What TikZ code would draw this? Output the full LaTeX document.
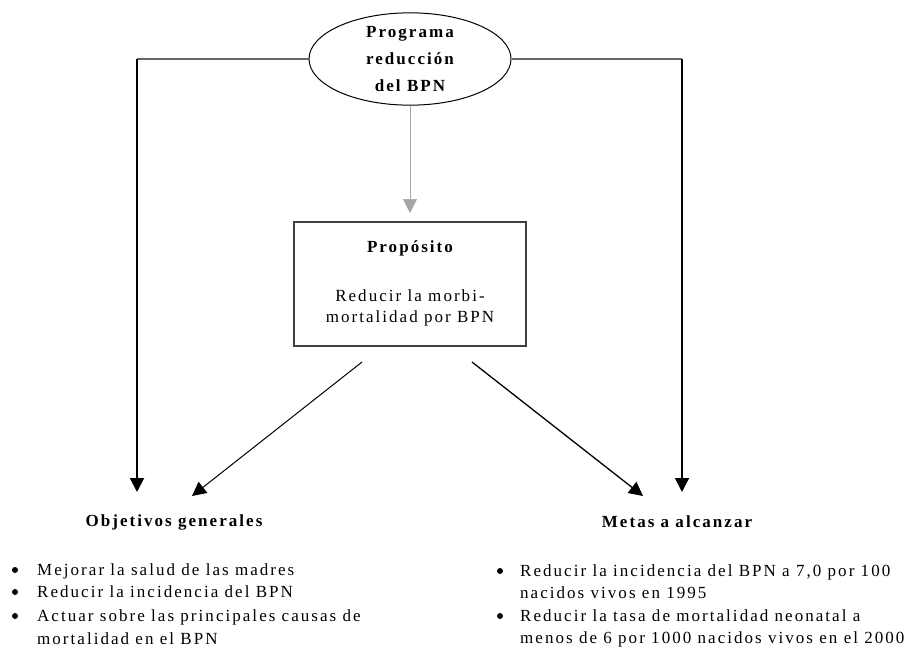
\documentclass[tikz,border=0pt]{standalone}
\usepackage{fontspec}
\setmainfont{Liberation Serif}
\usetikzlibrary{arrows.meta,shapes.geometric}
\newfontfamily\spaced[LetterSpace=12]{Liberation Serif}
\tikzset{
  tip/.style={-{Triangle[width=14pt,length=14pt]}},
  boldtxt/.style={font=\fontsize{17}{27}\selectfont\spaced\bfseries, inner sep=0pt},
  plain/.style={font=\fontsize{17}{21}\selectfont\spaced, inner sep=0pt},
  line/.style={plain, anchor=base west},
  bul/.style={circle, fill=black, inner sep=0pt, minimum size=6pt},
}
\begin{document}
\begin{tikzpicture}[x=1pt,y=-1pt]
\useasboundingbox (0,0) rectangle (914,648);
% nodes
\node[ellipse, draw=black, line width=1pt, minimum width=202pt, minimum height=92pt, inner sep=0pt,
      boldtxt, align=center] (prog) at (410,59) {Programa\\reducción\\del BPN};
\node[draw=black!75, line width=1.3pt, minimum width=232pt, minimum height=124pt, inner sep=0pt] (prop) at (410,284) {};
\node[boldtxt] (proptitle) at (410,248) {Propósito};
\node[plain, align=center] (proptext) at (410,308) {Reducir la morbi-\\mortalidad por BPN};
\node[boldtxt] (obj) at (174,522) {Objetivos generales};
\node[boldtxt] (met) at (677,522) {Metas a alcanzar};
% coordinates
\coordinate (lc) at (137,59);
\coordinate (rc) at (682,59);
\coordinate (lt) at (137,492);
\coordinate (rt) at (682,492);
\coordinate (pt) at (410,213);
\coordinate (ds1) at (362,362);
\coordinate (de1) at (192,496);
\coordinate (ds2) at (472,362);
\coordinate (de2) at (643,496);
% connectors
\draw[black!60, line width=1.3pt] (prog.west) -- (lc);
\draw[black!60, line width=1.3pt] (prog.east) -- (rc);
\draw[tip, line width=2pt] (lc) -- (lt);
\draw[tip, line width=2pt] (rc) -- (rt);
\draw[tip, black!35, line width=0.7pt] (prog.south) -- (pt);
\draw[tip, line width=1pt] (ds1) -- (de1);
\draw[tip, line width=1.3pt] (ds2) -- (de2);
% left list
\node[bul] (lb1) at (15,570) {};
\node[bul] (lb2) at (15,592) {};
\node[bul] (lb3) at (15,616) {};
\node[line] (l1) at (37,575) {Mejorar la salud de las madres};
\node[line] (l2) at (37,597) {Reducir la incidencia del BPN};
\node[line] (l3) at (37,621) {Actuar sobre las principales causas de};
\node[line] (l4) at (37,644) {mortalidad en el BPN};
% right list
\node[bul] (rb1) at (500,571) {};
\node[bul] (rb2) at (500,616) {};
\node[line] (r1) at (520,576) {Reducir la incidencia del BPN a 7,0 por 100};
\node[line] (r2) at (520,598) {nacidos vivos en 1995};
\node[line] (r3) at (520,621) {Reducir la tasa de mortalidad neonatal a};
\node[line] (r4) at (520,643) {menos de 6 por 1000 nacidos vivos en el 2000};
\end{tikzpicture}
\end{document}
